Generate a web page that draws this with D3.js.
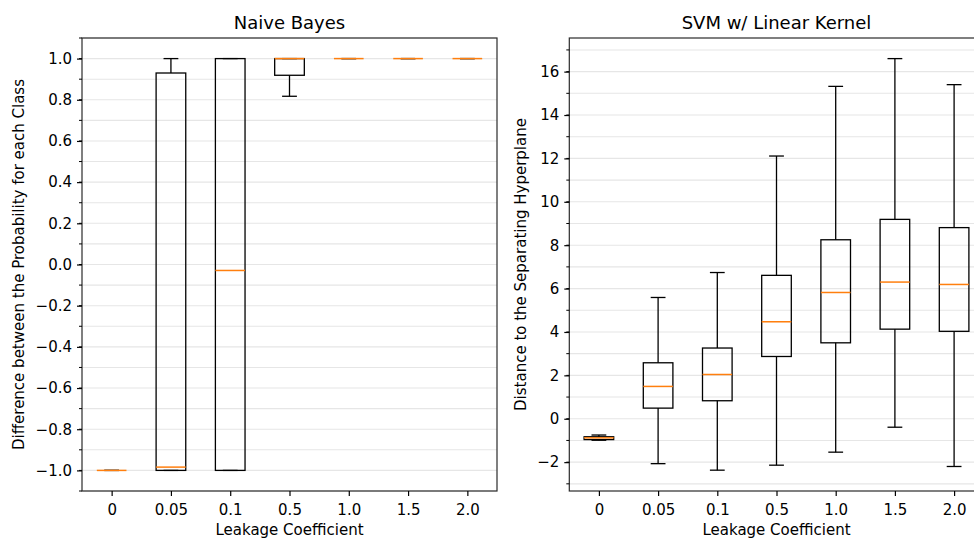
<!DOCTYPE html>
<html>
<head>
<meta charset="utf-8">
<script src="https://cdn.jsdelivr.net/npm/d3@7"></script>
<style>
  body { margin: 0; background: #fff; }
  text { font-family: "DejaVu Sans", sans-serif; fill: #000; }
</style>
</head>
<body>
<svg width="974" height="541"></svg>
<script>
var categories = ['0', '0.05', '0.1', '0.5', '1.0', '1.5', '2.0'];

// Naive Bayes box stats
var nbLow  = [-1, -1, -1, 0.817, 1, 1, 1];
var nbQ1   = [-1, -1, -1, 0.919, 1, 1, 1];
var nbMed  = [-1, -0.984, -0.029, 1, 1, 1, 1];
var nbQ3   = [-1, 0.93, 1, 1, 1, 1, 1];
var nbHigh = [-1, 1, 1, 1, 1, 1, 1];

// SVM box stats
var svmLow  = [-0.99, -2.07, -2.37, -2.14, -1.54, -0.39, -2.20];
var svmQ1   = [-0.96, 0.49, 0.83, 2.87, 3.50, 4.13, 4.03];
var svmMed  = [-0.88, 1.49, 2.04, 4.47, 5.82, 6.30, 6.19];
var svmQ3   = [-0.83, 2.58, 3.26, 6.61, 8.25, 9.19, 8.81];
var svmHigh = [-0.75, 5.59, 6.74, 12.11, 15.32, 16.60, 15.40];

var nbTicks = d3.range(-1, 1.01, 0.2);
var nbMinor = d3.range(-1.1, 1.11, 0.1);
var svmTicks = d3.range(-2, 16.1, 2);
var svmMinor = d3.range(-3, 17.1, 1);

var svg = d3.select('svg');

function rows(low, q1, med, q3, high) {
  return categories.map(function(c, i) {
    return { cat: c, low: low[i], q1: q1[i], med: med[i], q3: q3[i], high: high[i] };
  });
}

function panel(opt) {
  var x = d3.scalePoint().domain(categories).range([opt.x0, opt.x1]).padding(0.5);
  var y = d3.scaleLinear().domain(opt.domain).range([opt.y1, opt.y0]);
  var bw = x.step() * 0.5;
  var g = svg.append('g');

  // grid on major and minor ticks
  g.selectAll('.grid').data(opt.minor).enter().append('line')
    .attr('x1', opt.x0).attr('x2', opt.x1)
    .attr('y1', function(d) { return y(d); }).attr('y2', function(d) { return y(d); })
    .attr('stroke', '#e6e6e6').attr('stroke-width', 1.1);

  var bx = g.selectAll('.box').data(opt.data).enter().append('g')
    .attr('transform', function(d) { return 'translate(' + x(d.cat) + ',0)'; });

  bx.append('line').attr('x1', 0).attr('x2', 0)
    .attr('y1', function(d) { return y(d.low); }).attr('y2', function(d) { return y(d.q1); })
    .attr('stroke', '#000').attr('stroke-width', 1.3);
  bx.append('line').attr('x1', 0).attr('x2', 0)
    .attr('y1', function(d) { return y(d.q3); }).attr('y2', function(d) { return y(d.high); })
    .attr('stroke', '#000').attr('stroke-width', 1.3);
  bx.append('line').attr('x1', -bw / 4).attr('x2', bw / 4)
    .attr('y1', function(d) { return y(d.low); }).attr('y2', function(d) { return y(d.low); })
    .attr('stroke', '#000').attr('stroke-width', 1.3);
  bx.append('line').attr('x1', -bw / 4).attr('x2', bw / 4)
    .attr('y1', function(d) { return y(d.high); }).attr('y2', function(d) { return y(d.high); })
    .attr('stroke', '#000').attr('stroke-width', 1.3);
  bx.append('rect').attr('x', -bw / 2).attr('width', bw)
    .attr('y', function(d) { return y(d.q3); })
    .attr('height', function(d) { return y(d.q1) - y(d.q3); })
    .attr('fill', 'none').attr('stroke', '#000').attr('stroke-width', 1.3);
  bx.append('line').attr('x1', -bw / 2).attr('x2', bw / 2)
    .attr('y1', function(d) { return y(d.med); }).attr('y2', function(d) { return y(d.med); })
    .attr('stroke', '#ff7f0e').attr('stroke-width', 1.5);

  // spines
  g.append('rect').attr('x', opt.x0).attr('y', opt.y0)
    .attr('width', opt.x1 - opt.x0).attr('height', opt.y1 - opt.y0)
    .attr('fill', 'none').attr('stroke', '#2b2b2b').attr('stroke-width', 1.2);

  var ya = d3.axisLeft(y).tickValues(opt.ticks).tickFormat(d3.format(opt.fmt))
    .tickSize(5).tickPadding(5);
  var yg = g.append('g').attr('transform', 'translate(' + opt.x0 + ',0)').call(ya);
  yg.select('.domain').remove();
  yg.selectAll('.tick line').attr('stroke-width', 1.2);
  yg.selectAll('text').style('font-size', '15px').style('font-family', 'DejaVu Sans');
  yg.selectAll('.minor').data(opt.minor).enter().append('line').attr('class', 'minor')
    .attr('x1', 0).attr('x2', -3)
    .attr('y1', function(d) { return y(d); }).attr('y2', function(d) { return y(d); })
    .attr('stroke', '#000').attr('stroke-width', 1);

  var xa = d3.axisBottom(x).tickSize(5).tickPadding(8.5);
  var xg = g.append('g').attr('transform', 'translate(0,' + opt.y1 + ')').call(xa);
  xg.select('.domain').remove();
  xg.selectAll('.tick line').attr('stroke-width', 1.2);
  xg.selectAll('text').style('font-size', '15px').style('font-family', 'DejaVu Sans');

  g.append('text').attr('x', (opt.x0 + opt.x1) / 2).attr('y', 29)
    .attr('text-anchor', 'middle').style('font-size', '18px').text(opt.title);
  g.append('text').attr('x', (opt.x0 + opt.x1) / 2).attr('y', 535)
    .attr('text-anchor', 'middle').style('font-size', '15px').text('Leakage Coefficient');
  g.append('text')
    .attr('transform', 'translate(' + opt.ylx + ',' + ((opt.y0 + opt.y1) / 2) + ') rotate(-90)')
    .attr('text-anchor', 'middle').style('font-size', '15px').text(opt.ylabel);
}

panel({
  x0: 82, x1: 497, y0: 38, y1: 491, domain: [-1.1, 1.1],
  ticks: nbTicks, minor: nbMinor, fmt: '.1f',
  data: rows(nbLow, nbQ1, nbMed, nbQ3, nbHigh),
  title: 'Naive Bayes', ylx: 23.5,
  ylabel: 'Difference between the Probability for each Class'
});

panel({
  x0: 569.3, x1: 983.7, y0: 38, y1: 491, domain: [-3.33, 17.55],
  ticks: svmTicks, minor: svmMinor, fmt: 'd',
  data: rows(svmLow, svmQ1, svmMed, svmQ3, svmHigh),
  title: 'SVM w/ Linear Kernel', ylx: 526,
  ylabel: 'Distance to the Separating Hyperplane'
});
</script>
</body>
</html>
